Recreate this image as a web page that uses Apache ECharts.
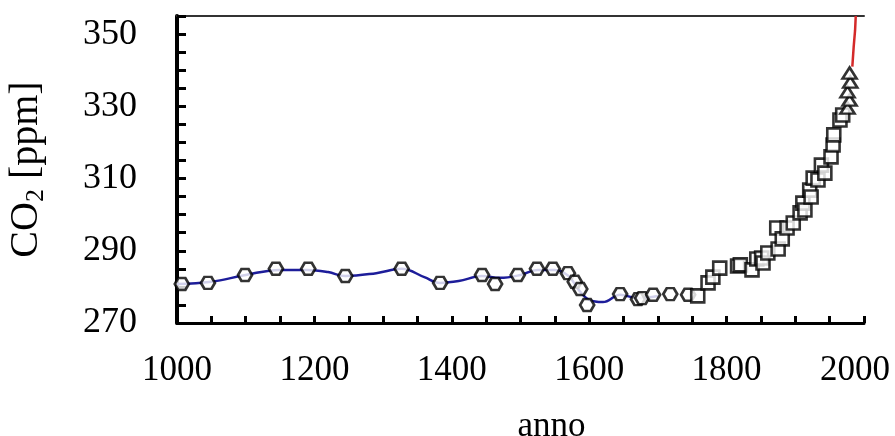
<!DOCTYPE html>
<html>
<head>
<meta charset="utf-8">
<title>CO2 ppm, anni 1000-2000</title>
<script src="https://cdn.jsdelivr.net/npm/echarts@6/dist/echarts.min.js"></script>
<style>
  html, body { margin: 0; padding: 0; background: #fff; }
  #chart { width: 895px; height: 436px; }
</style>
</head>
<body>
<div id="chart"></div>
<script>
// Ice-core series 1 (open hexagons): [year, ppm]
const iceCoreA = [
  [1007, 280.8], [1045, 281.1], [1099, 283.3], [1144, 285.0], [1191, 285.0],
  [1245, 283.0], [1327, 285.0], [1383, 281.1], [1444, 283.3], [1463, 280.8],
  [1496, 283.3], [1524, 285.0], [1547, 285.0], [1569, 283.8], [1579, 281.4],
  [1587, 279.4], [1597, 275.0], [1645, 278.0], [1671, 276.6], [1677, 276.9],
  [1693, 277.8], [1718, 278.0], [1744, 277.8]
];

// Ice-core series 2 (open squares): [year, ppm]
const iceCoreB = [
  [1758, 277.5], [1773, 281.1], [1780, 282.7], [1790, 285.2], [1816, 285.8],
  [1820, 286.1], [1837, 284.7], [1844, 287.7], [1851, 288.0], [1853, 286.6],
  [1860, 289.4], [1873, 296.3], [1875, 290.5], [1881, 293.3], [1888, 296.3],
  [1897, 297.7], [1907, 300.5], [1911, 303.2], [1914, 301.3], [1921, 306.8],
  [1923, 304.9], [1926, 310.1], [1933, 309.6], [1938, 313.7], [1943, 311.5],
  [1952, 316.0], [1955, 319.3], [1956, 322.1], [1965, 326.2], [1969, 327.6]
];

// Recent firn samples (open triangles): [year, ppm]
const firnSamples = [
  [1976, 329.5], [1979, 331.7], [1976, 334.0], [1980, 336.7], [1979, 339.2]
];

// Smoothed fit through the early record (blue curve): [year, ppm]
const smoothFit = [
  [1000, 280.8], [1050, 281.4], [1100, 283.3], [1150, 284.7], [1190, 284.7],
  [1220, 284.1], [1245, 283.0], [1290, 283.8], [1327, 285.0], [1360, 282.7],
  [1383, 281.1], [1410, 281.6], [1444, 283.0], [1470, 282.5], [1500, 283.3],
  [1525, 284.7], [1550, 284.7], [1570, 283.0], [1585, 279.1], [1600, 276.4],
  [1620, 275.8], [1645, 277.8], [1670, 276.9], [1700, 277.5]
];

// Atmospheric measurements (red line): [year, ppm]
const atmospheric = [
  [1983, 341.0], [1985, 346.5], [1987, 351.0], [1988, 355.0]
];

// Axis ranges and labelled tick steps
const yearMin = 1000, yearMax = 2000, yearTick = 50, yearLabelStep = 200;
const ppmMin = 270, ppmMax = 355, ppmTick = 5, ppmLabelStep = 20;

const serif = "'Liberation Serif', 'Times New Roman', serif";
const hexagon = 'path://M3,0 L9,0 L12,5 L9,10 L3,10 L0,5 Z';

const markerStyle = { color: '#ffffff', borderColor: '#000000', borderWidth: 2.6 };

const chart = echarts.init(document.getElementById('chart'), null, { renderer: 'canvas' });

chart.setOption({
  backgroundColor: '#ffffff',
  animation: false,
  grid: { left: 177, right: 31, top: 16, bottom: 113, outerBoundsMode: 'none', containLabel: false },
  xAxis: [
    {
      type: 'value',
      min: yearMin,
      max: yearMax,
      interval: yearTick,
      name: 'anno',
      nameLocation: 'middle',
      nameGap: 86,
      nameTextStyle: { fontFamily: serif, fontSize: 35, color: '#000', padding: [0, 0, 0, 62] },
      axisLine: { show: true, onZero: false, lineStyle: { color: '#000', width: 3 } },
      axisTick: { show: true, inside: true, length: 7, lineStyle: { color: '#000', width: 3 } },
      axisLabel: {
        fontFamily: serif, fontSize: 35, color: '#000', margin: 30,
        showMinLabel: true, showMaxLabel: true,
        formatter: v => {
          if (v % yearLabelStep !== 0) return '';
          return v === yearMax ? '{last|' + v + '}' : String(v);
        },
        rich: {
          last: { fontFamily: serif, fontSize: 35, color: '#000', padding: [0, 18, 0, 0] }
        }
      },
      splitLine: { show: false }
    },
    {
      type: 'value',
      position: 'top',
      min: yearMin,
      max: yearMax,
      axisLine: { show: true, onZero: false, lineStyle: { color: '#333', width: 2 } },
      axisTick: { show: false },
      axisLabel: { show: false },
      splitLine: { show: false }
    }
  ],
  yAxis: {
    type: 'value',
    min: ppmMin,
    max: ppmMax,
    interval: ppmTick,
    name: '{n|CO}{s|2}{n| [ppm]}',
    nameLocation: 'middle',
    nameGap: 128,
    nameRotate: 90,
    nameTextStyle: {
      fontFamily: serif, fontSize: 40, color: '#000',
      rich: {
        n: { fontFamily: serif, fontSize: 40, color: '#000', lineHeight: 46 },
        s: { fontFamily: serif, fontSize: 26, color: '#000', lineHeight: 46, verticalAlign: 'bottom' }
      }
    },
    axisLine: { show: true, onZero: false, lineStyle: { color: '#000', width: 4 } },
    axisTick: { show: true, inside: true, length: 9, lineStyle: { color: '#000', width: 3 } },
    axisLabel: {
      fontFamily: serif, fontSize: 36, color: '#000', margin: 40,
      formatter: v => ((v - ppmMin) % ppmLabelStep === 0 ? String(v) : '')
    },
    splitLine: { show: false }
  },
  series: [
    {
      type: 'line',
      data: smoothFit,
      smooth: 0.4,
      showSymbol: false,
      symbol: 'none',
      lineStyle: { color: '#1d1d9a', width: 2.5 },
      z: 2
    },
    {
      type: 'line',
      data: atmospheric,
      showSymbol: false,
      symbol: 'none',
      lineStyle: { color: '#d42a2a', width: 2.5 },
      z: 2
    },
    {
      type: 'scatter',
      data: iceCoreA,
      symbol: hexagon,
      symbolSize: [14, 12],
      itemStyle: markerStyle,
      z: 3
    },
    {
      type: 'scatter',
      data: iceCoreB,
      symbol: 'rect',
      symbolSize: 13,
      itemStyle: markerStyle,
      z: 3
    },
    {
      type: 'scatter',
      data: firnSamples,
      symbol: 'triangle',
      symbolSize: [14, 11],
      itemStyle: markerStyle,
      z: 4
    }
  ]
});
</script>
</body>
</html>
